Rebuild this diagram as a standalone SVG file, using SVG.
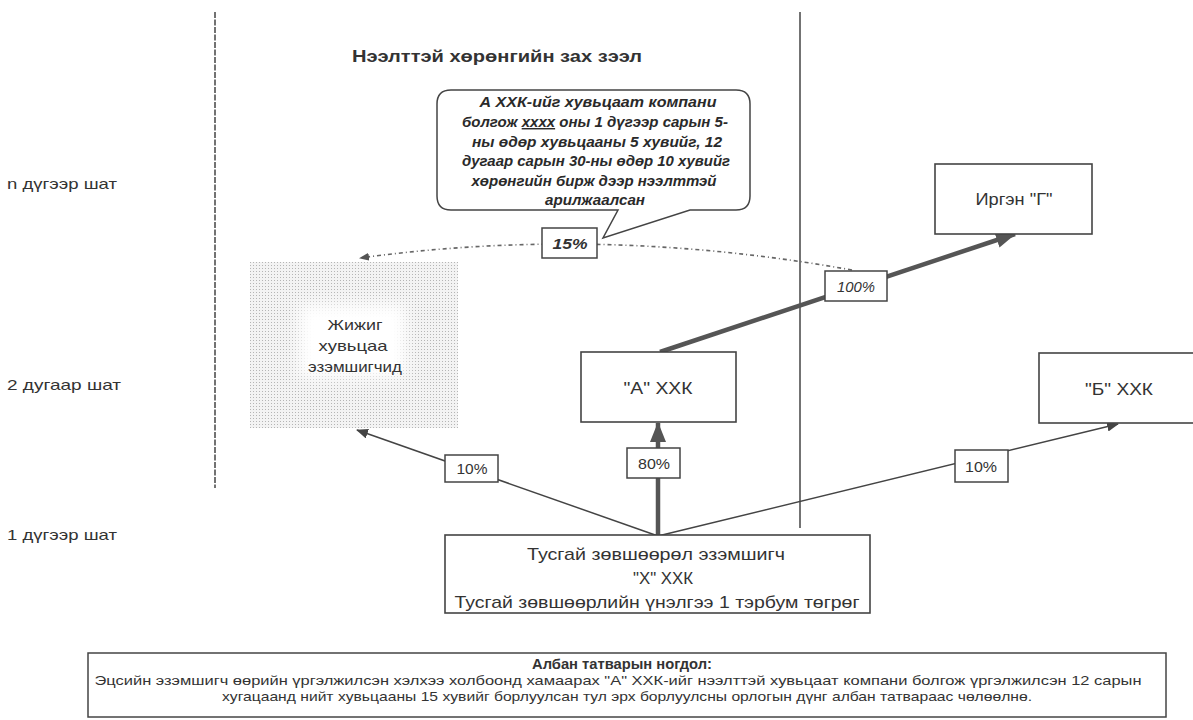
<svg xmlns="http://www.w3.org/2000/svg" width="1193" height="720" viewBox="0 0 1193 720">
<style>
text{font-family:"Liberation Sans",Arial,sans-serif;fill:#333}
.lbl{font-size:15px}
.node{fill:#fff;stroke:#444;stroke-width:1.6}
.ntext{font-size:17px;text-anchor:middle}
.pct{fill:#fff;stroke:#444;stroke-width:1.5}
.ptext{font-size:15px;text-anchor:middle}
.it{font-style:italic;font-weight:bold}
.thin{stroke:#444;stroke-width:1.5;fill:none}
.thick{stroke:#555;stroke-width:4.5;fill:none}
.cal{font-size:14.5px;font-style:italic;font-weight:bold;text-anchor:middle;fill:#2a2a2a}
.xt{font-size:17px;text-anchor:middle}
</style>
<defs>
<marker id="aThin" markerUnits="userSpaceOnUse" markerWidth="12" markerHeight="10" refX="11" refY="5" orient="auto">
<path d="M0,0 L12,5 L0,10 z" fill="#444"/>
</marker>
<marker id="aThick" markerUnits="userSpaceOnUse" markerWidth="20" markerHeight="16" refX="19" refY="8" orient="auto">
<path d="M0,0 L20,8 L0,16 z" fill="#555"/>
</marker>
<marker id="aDot" markerUnits="userSpaceOnUse" markerWidth="10" markerHeight="8" refX="9" refY="4" orient="auto">
<path d="M0,0 L10,4 L0,8 z" fill="#555"/>
</marker>
<pattern id="dots" width="3" height="3" patternUnits="userSpaceOnUse">
<rect width="3" height="3" fill="#f3f3f3"/>
<rect x="1" y="1" width="1" height="1" fill="#b5b5b5"/>
</pattern>
<filter id="blur" x="-30%" y="-30%" width="160%" height="160%">
<feGaussianBlur stdDeviation="7"/>
</filter>
</defs>
<rect width="1193" height="720" fill="#fff"/>

<g id="stage-labels">
<text class="lbl" x="7" y="189" textLength="110" lengthAdjust="spacingAndGlyphs">n дүгээр шат</text>
<text class="lbl" x="7" y="390" textLength="114" lengthAdjust="spacingAndGlyphs">2 дугаар шат</text>
<text class="lbl" x="7" y="540" textLength="110" lengthAdjust="spacingAndGlyphs">1 дүгээр шат</text>
</g>

<g id="dividers">
<line x1="215" y1="12" x2="215" y2="488" stroke="#444" stroke-width="1.5" stroke-dasharray="6,1.5"/>
<line x1="800" y1="12" x2="800" y2="528" stroke="#444" stroke-width="1.5"/>
</g>

<text id="title" x="497" y="62" font-size="16" font-weight="bold" text-anchor="middle" textLength="290" lengthAdjust="spacingAndGlyphs">Нээлттэй хөрөнгийн зах зээл</text>

<g id="small-holders">
<rect x="250" y="262" width="208" height="166" fill="url(#dots)"/>
<rect x="300" y="305" width="105" height="72" fill="#fff" filter="url(#blur)"/>
<text class="lbl" x="355" y="330" text-anchor="middle" textLength="55" lengthAdjust="spacingAndGlyphs">Жижиг</text>
<text class="lbl" x="353" y="351" text-anchor="middle" textLength="69" lengthAdjust="spacingAndGlyphs">хувьцаа</text>
<text class="lbl" x="355" y="372" text-anchor="middle" textLength="94" lengthAdjust="spacingAndGlyphs">эзэмшигчид</text>
</g>

<g id="connectors">
<path d="M852,270 Q600,225 360,258" stroke="#666" stroke-width="1.6" fill="none" stroke-dasharray="4,3,1,3" marker-end="url(#aDot)"/>
<line class="thick" x1="660" y1="352" x2="1015" y2="234" marker-end="url(#aThick)"/>
<line class="thick" x1="658" y1="536" x2="658" y2="423" marker-end="url(#aThick)"/>
<line class="thin" x1="658" y1="536" x2="357" y2="430" marker-end="url(#aThin)"/>
<line class="thin" x1="658" y1="536" x2="1118" y2="424" marker-end="url(#aThin)"/>
</g>

<g id="callout">
<path d="M451,90 H736 Q750,90 750,104 V196 Q750,210 736,210 H690 L603,238 L618,210 H451 Q437,210 437,196 V104 Q437,90 451,90 Z" fill="#fff" stroke="#444" stroke-width="1.5"/>
<text class="cal" x="598" y="107" textLength="237" lengthAdjust="spacingAndGlyphs">А ХХК-ийг хувьцаат компани</text>
<text class="cal" x="595" y="127" textLength="266" lengthAdjust="spacingAndGlyphs">болгож <tspan text-decoration="underline">хххх</tspan> оны 1 дүгээр сарын 5-</text>
<text class="cal" x="597" y="147" textLength="250" lengthAdjust="spacingAndGlyphs">ны өдөр хувьцааны 5 хувийг, 12</text>
<text class="cal" x="596" y="166" textLength="268" lengthAdjust="spacingAndGlyphs">дугаар сарын 30-ны өдөр 10 хувийг</text>
<text class="cal" x="594" y="186" textLength="245" lengthAdjust="spacingAndGlyphs">хөрөнгийн бирж дээр нээлттэй</text>
<text class="cal" x="595" y="205" textLength="100" lengthAdjust="spacingAndGlyphs">арилжаалсан</text>
</g>

<g id="node-A">
<rect class="node" x="581" y="352" width="155" height="70"/>
<text class="ntext" x="658" y="394" textLength="69" lengthAdjust="spacingAndGlyphs">"А" ХХК</text>
</g>

<g id="node-G">
<rect class="node" x="935" y="164" width="157" height="70"/>
<text class="ntext" x="1014" y="205" textLength="77" lengthAdjust="spacingAndGlyphs">Иргэн "Г"</text>
</g>

<g id="node-B">
<rect class="node" x="1039" y="353" width="160" height="70"/>
<text class="ntext" x="1119" y="395" textLength="68" lengthAdjust="spacingAndGlyphs">"Б" ХХК</text>
</g>

<g id="node-X">
<rect class="node" x="445" y="535" width="425" height="78"/>
<text class="xt" x="656" y="560" textLength="258" lengthAdjust="spacingAndGlyphs">Тусгай зөвшөөрөл эзэмшигч</text>
<text class="xt" x="663" y="584" textLength="60" lengthAdjust="spacingAndGlyphs">"Х" ХХК</text>
<text class="xt" x="657" y="608" textLength="405" lengthAdjust="spacingAndGlyphs">Тусгай зөвшөөрлийн үнэлгээ 1 тэрбум төгрөг</text>
</g>

<g id="labels">
<rect class="pct" x="542" y="228" width="55" height="30"/>
<text class="ptext it" x="570" y="249" textLength="35" lengthAdjust="spacingAndGlyphs">15%</text>
<rect class="pct" x="825" y="271" width="62" height="30"/>
<text class="ptext" font-style="italic" x="856" y="292" textLength="38" lengthAdjust="spacingAndGlyphs">100%</text>
<rect class="pct" x="627" y="448" width="53" height="30"/>
<text class="ptext" x="654" y="469" textLength="32" lengthAdjust="spacingAndGlyphs">80%</text>
<rect class="pct" x="445" y="455" width="53" height="27"/>
<text class="ptext" x="472" y="474" textLength="31" lengthAdjust="spacingAndGlyphs">10%</text>
<rect class="pct" x="955" y="450" width="53" height="32"/>
<text class="ptext" x="981" y="472" textLength="32" lengthAdjust="spacingAndGlyphs">10%</text>
</g>

<g id="footer">
<rect x="88" y="653" width="1078" height="64" fill="#fff" stroke="#444" stroke-width="1.5"/>
<text x="622" y="669" font-size="14.5" font-weight="bold" text-anchor="middle" textLength="180" lengthAdjust="spacingAndGlyphs">Албан татварын ногдол:</text>
<text x="618" y="685" font-size="13.5" text-anchor="middle" textLength="1047" lengthAdjust="spacingAndGlyphs">Эцсийн эзэмшигч өөрийн үргэлжилсэн хэлхээ холбоонд хамаарах "А" ХХК-ийг нээлттэй хувьцаат компани болгож үргэлжилсэн 12 сарын</text>
<text x="627" y="701" font-size="13.5" text-anchor="middle" textLength="810" lengthAdjust="spacingAndGlyphs">хугацаанд нийт хувьцааны 15 хувийг борлуулсан тул эрх борлуулсны орлогын дүнг албан татвараас чөлөөлнө.</text>
</g>
</svg>
